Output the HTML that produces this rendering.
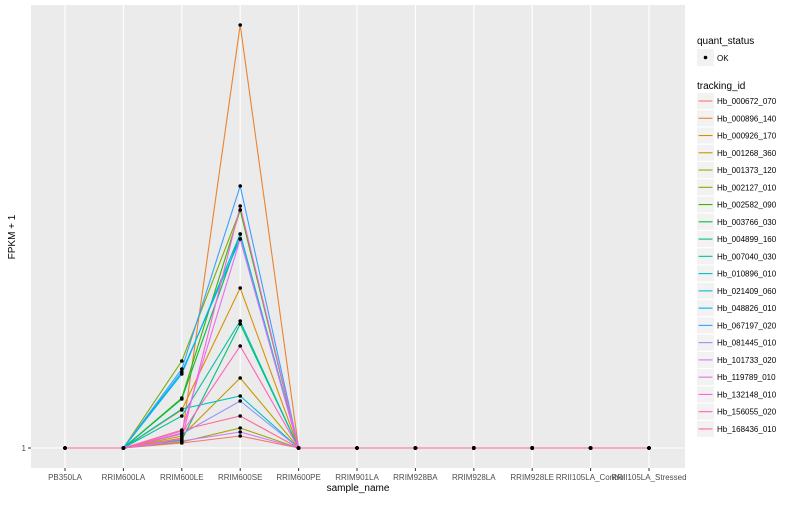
<!DOCTYPE html>
<html><head><meta charset="utf-8"><style>
body{margin:0;background:#fff;font-family:"Liberation Sans",sans-serif}
svg text{font-family:"Liberation Sans",sans-serif}
</style></head><body>
<svg id="c" width="800" height="500"></svg>
<script>
const categories=["PB350LA","RRIM600LA","RRIM600LE","RRIM600SE","RRIM600PE","RRIM901LA","RRIM928BA","RRIM928LA","RRIM928LE","RRII105LA_Control","RRII105LA_Stressed"];
const seriesIds=["Hb_000672_070","Hb_000896_140","Hb_000926_170","Hb_001268_360","Hb_001373_120","Hb_002127_010","Hb_002582_090","Hb_003766_030","Hb_004899_160","Hb_007040_030","Hb_010896_010","Hb_021409_060","Hb_048826_010","Hb_067197_020","Hb_081445_010","Hb_101733_020","Hb_119789_010","Hb_132148_010","Hb_156055_020","Hb_168436_010"];
const valuesLE=[1.5,2.0,4.8,2.2,1.6,9.7,6.0,5.9,1.8,4.2,4.9,8.4,8.6,8.9,2.4,1.7,2.7,1.9,2.5,2.8];
const valuesSE=[2.2,43.3,17.0,8.0,3.0,24.8,24.8,22.4,13.4,13.7,6.2,22.4,21.9,27.2,5.7,2.6,21.9,25.2,11.2,4.2];
const colors=["#F8766D","#EA8331","#D89000","#C09B00","#A3A500","#7CAE00","#39B600","#00BB4E","#00BF7D","#00C1A3","#00BFC4","#00BAE0","#00B0F6","#35A2FF","#9590FF","#C77CFF","#E76BF3","#FA62DB","#FF62BC","#FF6A98"];
const yTicks=[1];
const NS="http://www.w3.org/2000/svg";
const svg=document.getElementById('c');
function mk(t,a,p){const e=document.createElementNS(NS,t);for(const k in a)e.setAttribute(k,a[k]);(p||svg).appendChild(e);return e;}
const PX0=31,PX1=685,PY0=5,PY1=468;
const maxV=Math.max(...valuesLE,...valuesSE);
const x=i=>65+i*(649-65)/(categories.length-1);
const y=v=>448-(v-1)*(448-25)/(maxV-1);
let bg=mk('rect',{x:PX0,y:PY0,width:PX1-PX0,height:PY1-PY0,fill:'#ebebeb'});


categories.forEach((c,i)=>{
  mk('line',{x1:x(i),x2:x(i),y1:PY0,y2:PY1,stroke:'#fff','stroke-width':1.1});
  mk('line',{x1:x(i),x2:x(i),y1:PY1,y2:PY1+3,stroke:'#333','stroke-width':1});
  let t=mk('text',{x:x(i),y:480,'font-size':8,fill:'#4d4d4d','text-anchor':'middle'});t.textContent=c;
  
  
});
yTicks.forEach(v=>{
  mk('line',{x1:PX0,x2:PX1,y1:y(v),y2:y(v),stroke:'#fff','stroke-width':1.1});
  mk('line',{x1:PX0-3,x2:PX0,y1:y(v),y2:y(v),stroke:'#333','stroke-width':1});
  let t=mk('text',{x:26,y:y(v)+3,'font-size':8,fill:'#4d4d4d','text-anchor':'end'});t.textContent=v;
  
  
});
const series=seriesIds.map((id,s)=>categories.map((c,i)=>i==2?valuesLE[s]:i==3?valuesSE[s]:1));
series.forEach((vals,s)=>{
  let p=mk('polyline',{points:vals.map((v,i)=>x(i)+','+y(v)).join(' '),fill:'none',stroke:colors[s],'stroke-width':1.1});
  
  
});
series.forEach((vals,s)=>vals.forEach((v,i)=>{
  let d=mk('circle',{cx:x(i),cy:y(v),r:1.8,fill:'#000'});
  
  
}));
let xt=mk('text',{x:358,y:491,'font-size':10,fill:'#000','text-anchor':'middle'});xt.textContent='sample_name';


let yt=mk('text',{x:0,y:0,'font-size':10,fill:'#000','text-anchor':'middle',transform:'translate(15,237) rotate(-90)'});yt.textContent='FPKM + 1';


let qt=mk('text',{x:697,y:44,'font-size':10});qt.textContent='quant_status';


mk('rect',{x:697,y:49,width:17,height:17,fill:'#f2f2f2'});
mk('circle',{cx:705.5,cy:57.5,r:1.8,fill:'#000'});
let ok=mk('text',{x:717,y:61,'font-size':8});ok.textContent='OK';


let tt=mk('text',{x:697,y:89,'font-size':10});tt.textContent='tracking_id';


seriesIds.forEach((id,s)=>{
  const cy=101+s*17.26;
  const g=mk('g',{});
  
  
  mk('rect',{x:697,y:cy-8,width:17,height:16,fill:'#f2f2f2'},g);
  mk('line',{x1:698.5,x2:712.5,y1:cy,y2:cy,stroke:colors[s],'stroke-width':1.1},g);
  const t=mk('text',{x:717,y:cy+3,'font-size':8},g);t.textContent=id;
});
</script>
</body></html>
